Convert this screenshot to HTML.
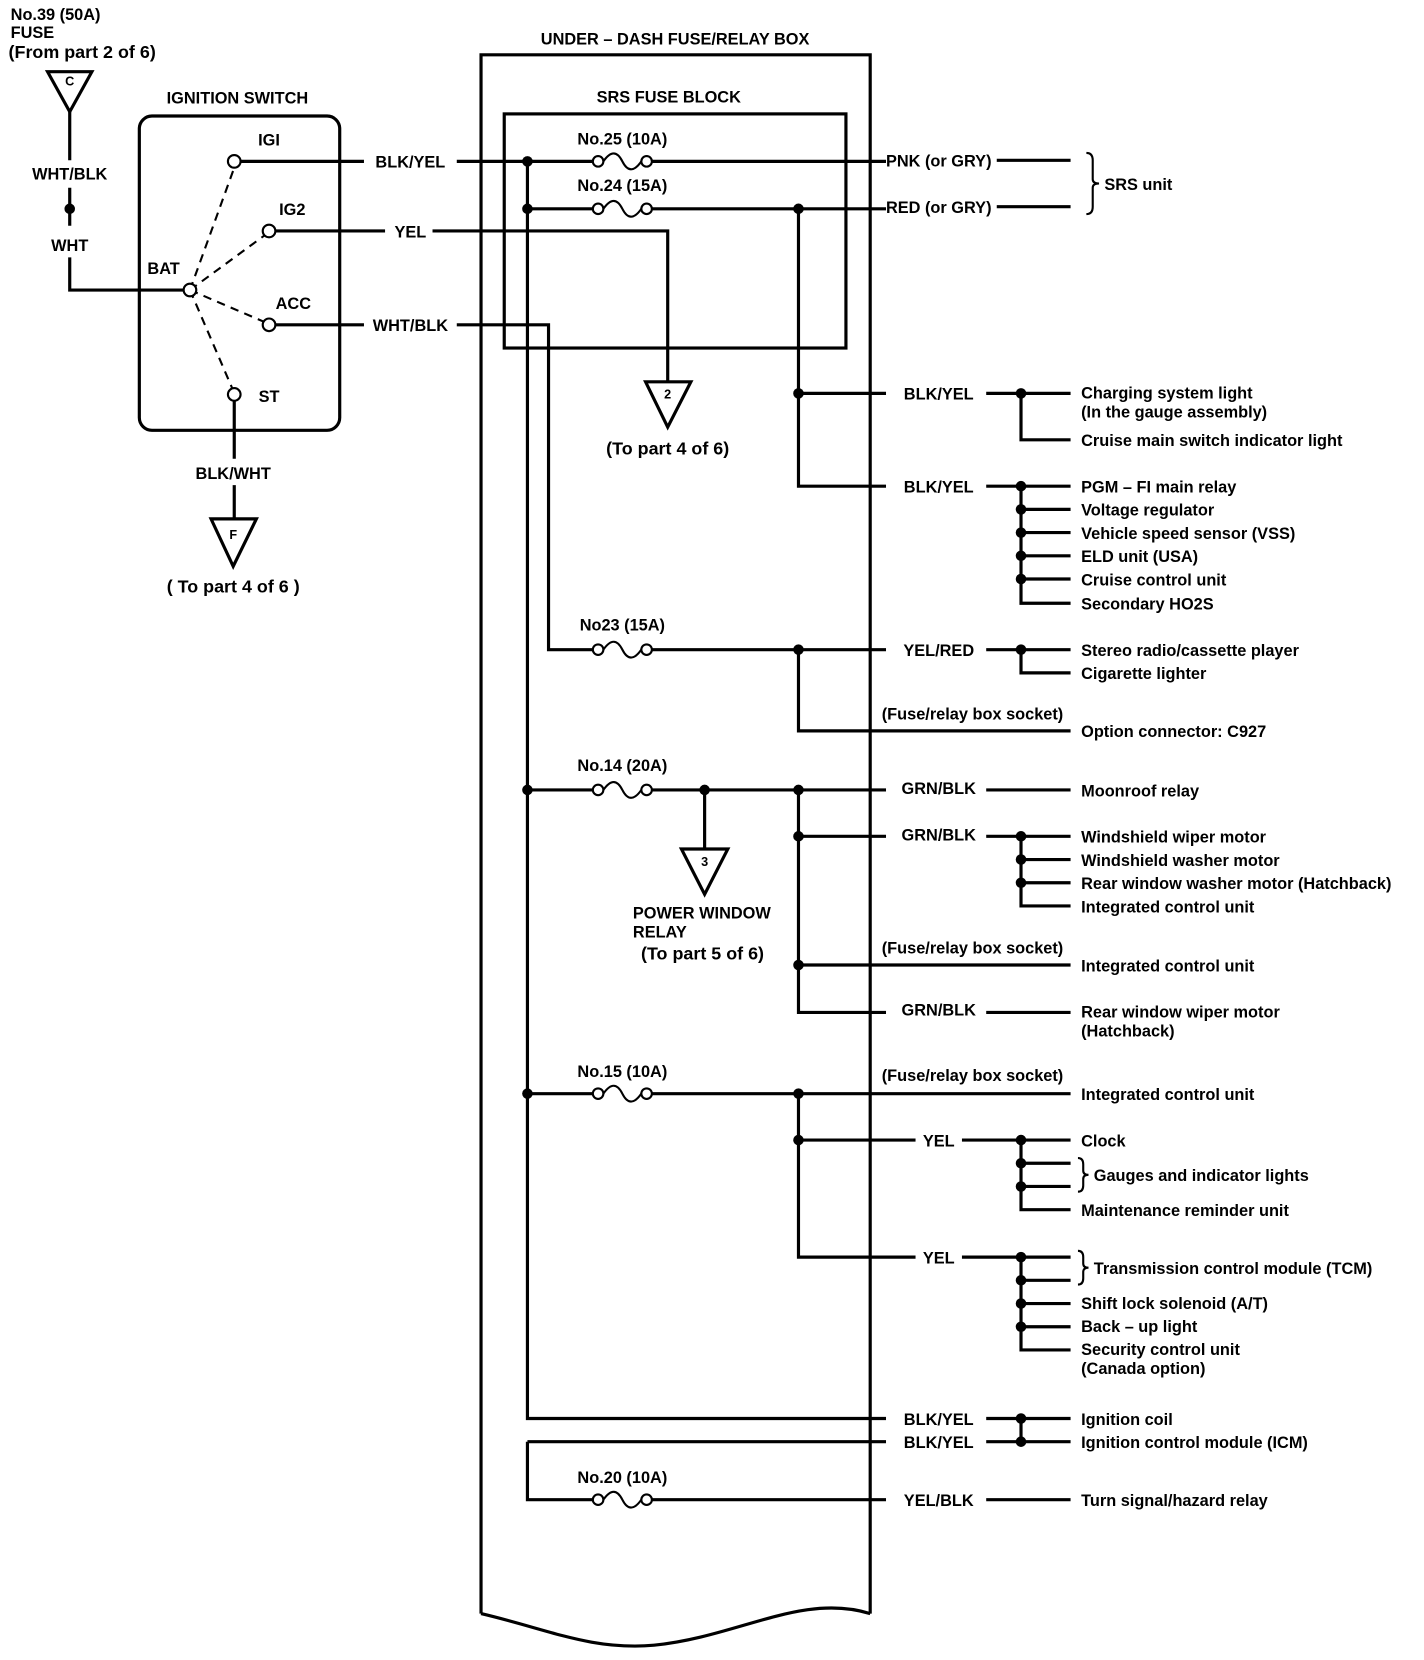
<!DOCTYPE html>
<html><head><meta charset="utf-8"><style>
html,body{margin:0;padding:0;background:#fff}
svg{display:block}
text{font-family:"Liberation Sans",sans-serif;font-weight:bold;font-size:15.5px;fill:#000}
.m{text-anchor:middle}
.b{font-size:17px}
</style></head><body>
<svg width="1424" height="1660" viewBox="0 0 1350 1574" xmlns="http://www.w3.org/2000/svg">
<defs>
<g id="fuse"><circle cx="0" cy="0" r="5" fill="#fff" stroke="#000" stroke-width="2"/><circle cx="46" cy="0" r="5" fill="#fff" stroke="#000" stroke-width="2"/><path d="M5,0 C12,-10 18,-10 23,0 C28,10 34,10 41,0" fill="none" stroke="#000" stroke-width="2"/></g>
</defs>
<g stroke="#000" stroke-width="3" fill="none">
<polygon points="45,68 87,68 66,106"/>
<path d="M66,106 V152 M66,178 V214 M66,244 V275 H174"/>
<rect x="132" y="110" width="190" height="298" rx="12"/>
<path d="M228,153 H345 M261,219 H365 M261,308 H345 M222,380 V435 M222,460 V492"/>
<polygon points="200,492 243,492 221,537"/>
<path d="M456,1530 V52 H825 V1530"/>
<path d="M456,1530 C520,1545 560,1565 620,1560 C700,1552 760,1510 825,1530"/>
<rect x="478" y="108" width="324" height="222"/>
<path d="M433,153 H562 M618,153 H840"/>
<path d="M410,219 H633 V362"/>
<polygon points="612,362 655,362 633,405"/>
<path d="M433,308 H520 V616 H562 M618,616 H840"/>
<path d="M500,153 V1345 H840"/>
<path d="M500,198 H562 M618,198 H840"/>
<path d="M757,198 V461 H840 M757,373 H840"/>
<path d="M945,152 H1015 M945,196 H1015"/>
<path d="M1030,145 Q1036,145 1036,152 V170 Q1036,174 1042,174 Q1036,174 1036,178 V196 Q1036,203 1030,203" stroke-width="2"/>
<path d="M935,373 H1015 M968,373 V417 H1015"/>
<path d="M935,461 H1015 M968,461 V572 H1015 M968,483 H1015 M968,505 H1015 M968,527 H1015 M968,549 H1015"/>
<path d="M757,616 V693 H1015 M935,616 H1015 M968,616 V638 H1015"/>
<path d="M500,749 H562 M618,749 H840 M668,749 V805 M757,749 V960 H840 M757,793 H840 M757,915 H1015"/>
<polygon points="646,805 690,805 668,848"/>
<path d="M935,749 H1015 M935,793 H1015 M968,793 V859 H1015 M968,815 H1015 M968,837 H1015 M935,960 H1015"/>
<path d="M500,1037 H562 M618,1037 H1015 M757,1037 V1192 H868 M757,1081 H868"/>
<path d="M912,1081 H1015 M968,1081 V1147 H1015 M968,1103 H1015 M968,1125 H1015"/>
<path d="M912,1192 H1015 M968,1192 V1280 H1015 M968,1214 H1015 M968,1236 H1015 M968,1258 H1015"/>
<path d="M1022,1098 Q1027,1098 1027,1104 V1110 Q1027,1114 1032,1114 Q1027,1114 1027,1118 V1124 Q1027,1130 1022,1130" stroke-width="2"/>
<path d="M1022,1186 Q1027,1186 1027,1192 V1198 Q1027,1202 1032,1202 Q1027,1202 1027,1206 V1212 Q1027,1218 1022,1218" stroke-width="2"/>
<path d="M935,1345 H1015 M968,1345 V1367 M500,1367 H840 M935,1367 H1015 M500,1367 V1422 H562 M618,1422 H840 M935,1422 H1015"/>
</g>
<g stroke="#000" stroke-width="2" stroke-dasharray="8,6" fill="none">
<path d="M180,275 L222,159 M180,275 L251,223 M180,275 L250,305 M180,275 L220,368"/>
</g>
<g stroke="#000" stroke-width="2" fill="#fff">
<circle cx="180" cy="275" r="6"/><circle cx="222" cy="153" r="6"/><circle cx="255" cy="219" r="6"/><circle cx="255" cy="308" r="6"/><circle cx="222" cy="374" r="6"/>
</g>
<use href="#fuse" x="567" y="153"/><use href="#fuse" x="567" y="198"/><use href="#fuse" x="567" y="616"/>
<use href="#fuse" x="567" y="749"/><use href="#fuse" x="567" y="1037"/><use href="#fuse" x="567" y="1422"/>
<g fill="#000">
<circle cx="66" cy="198" r="5"/>
<circle cx="500" cy="153" r="5"/><circle cx="500" cy="198" r="5"/><circle cx="500" cy="749" r="5"/><circle cx="500" cy="1037" r="5"/>
<circle cx="757" cy="198" r="5"/><circle cx="757" cy="373" r="5"/><circle cx="757" cy="616" r="5"/>
<circle cx="668" cy="749" r="5"/><circle cx="757" cy="749" r="5"/><circle cx="757" cy="793" r="5"/><circle cx="757" cy="915" r="5"/>
<circle cx="757" cy="1037" r="5"/><circle cx="757" cy="1081" r="5"/>
<circle cx="968" cy="373" r="5"/>
<circle cx="968" cy="461" r="5"/><circle cx="968" cy="483" r="5"/><circle cx="968" cy="505" r="5"/><circle cx="968" cy="527" r="5"/><circle cx="968" cy="549" r="5"/>
<circle cx="968" cy="616" r="5"/>
<circle cx="968" cy="793" r="5"/><circle cx="968" cy="815" r="5"/><circle cx="968" cy="837" r="5"/>
<circle cx="968" cy="1081" r="5"/><circle cx="968" cy="1103" r="5"/><circle cx="968" cy="1125" r="5"/>
<circle cx="968" cy="1192" r="5"/><circle cx="968" cy="1214" r="5"/><circle cx="968" cy="1236" r="5"/><circle cx="968" cy="1258" r="5"/>
<circle cx="968" cy="1345" r="5"/><circle cx="968" cy="1367" r="5"/>
</g>
<text x="10" y="19">No.39 (50A)</text>
<text x="10" y="36">FUSE</text>
<text x="8" y="55" class="b">(From part 2 of 6)</text>
<text x="66" y="81" class="m" style="font-size:12px">C</text>
<text x="66" y="170" class="m">WHT/BLK</text>
<text x="66" y="238" class="m">WHT</text>
<text x="225" y="98" class="m">IGNITION SWITCH</text>
<text x="255" y="138" class="m">IGI</text>
<text x="277" y="204" class="m">IG2</text>
<text x="278" y="293" class="m">ACC</text>
<text x="155" y="260" class="m">BAT</text>
<text x="255" y="381" class="m">ST</text>
<text x="389" y="159" class="m">BLK/YEL</text>
<text x="389" y="225" class="m">YEL</text>
<text x="389" y="314" class="m">WHT/BLK</text>
<text x="221" y="454" class="m">BLK/WHT</text>
<text x="221" y="511" class="m" style="font-size:12px">F</text>
<text x="221" y="562" class="m b">( To part 4 of 6 )</text>
<text x="640" y="42" class="m">UNDER – DASH FUSE/RELAY BOX</text>
<text x="634" y="97" class="m">SRS FUSE BLOCK</text>
<text x="590" y="137" class="m">No.25 (10A)</text>
<text x="590" y="181" class="m">No.24 (15A)</text>
<text x="633" y="378" class="m" style="font-size:12px">2</text>
<text x="633" y="431" class="m b">(To part 4 of 6)</text>
<text x="890" y="158" class="m">PNK (or GRY)</text>
<text x="890" y="202" class="m">RED (or GRY)</text>
<text x="1047" y="180">SRS unit</text>
<text x="890" y="379" class="m">BLK/YEL</text>
<text x="1025" y="378">Charging system light</text>
<text x="1025" y="396">(In the gauge assembly)</text>
<text x="1025" y="423">Cruise main switch indicator light</text>
<text x="890" y="467" class="m">BLK/YEL</text>
<text x="1025" y="467">PGM – FI main relay</text>
<text x="1025" y="489">Voltage regulator</text>
<text x="1025" y="511">Vehicle speed sensor (VSS)</text>
<text x="1025" y="533">ELD unit (USA)</text>
<text x="1025" y="555">Cruise control unit</text>
<text x="1025" y="578">Secondary HO2S</text>
<text x="590" y="598" class="m">No23 (15A)</text>
<text x="890" y="622" class="m">YEL/RED</text>
<text x="1025" y="622">Stereo radio/cassette player</text>
<text x="1025" y="644">Cigarette lighter</text>
<text x="922" y="682" class="m">(Fuse/relay box socket)</text>
<text x="1025" y="699">Option connector: C927</text>
<text x="590" y="731" class="m">No.14 (20A)</text>
<text x="890" y="753" class="m">GRN/BLK</text>
<text x="1025" y="755">Moonroof relay</text>
<text x="890" y="797" class="m">GRN/BLK</text>
<text x="1025" y="799">Windshield wiper motor</text>
<text x="1025" y="821">Windshield washer motor</text>
<text x="1025" y="843">Rear window washer motor (Hatchback)</text>
<text x="1025" y="865">Integrated control unit</text>
<text x="668" y="821" class="m" style="font-size:12px">3</text>
<text x="600" y="871">POWER WINDOW</text>
<text x="600" y="889">RELAY</text>
<text x="666" y="910" class="m b">(To part 5 of 6)</text>
<text x="922" y="904" class="m">(Fuse/relay box socket)</text>
<text x="1025" y="921">Integrated control unit</text>
<text x="890" y="963" class="m">GRN/BLK</text>
<text x="1025" y="965">Rear window wiper motor</text>
<text x="1025" y="983">(Hatchback)</text>
<text x="590" y="1021" class="m">No.15 (10A)</text>
<text x="922" y="1025" class="m">(Fuse/relay box socket)</text>
<text x="1025" y="1043">Integrated control unit</text>
<text x="890" y="1087" class="m">YEL</text>
<text x="1025" y="1087">Clock</text>
<text x="1037" y="1120">Gauges and indicator lights</text>
<text x="1025" y="1153">Maintenance reminder unit</text>
<text x="890" y="1198" class="m">YEL</text>
<text x="1037" y="1208">Transmission control module (TCM)</text>
<text x="1025" y="1241">Shift lock solenoid (A/T)</text>
<text x="1025" y="1263">Back – up light</text>
<text x="1025" y="1285">Security control unit</text>
<text x="1025" y="1303">(Canada option)</text>
<text x="890" y="1351" class="m">BLK/YEL</text>
<text x="890" y="1373" class="m">BLK/YEL</text>
<text x="1025" y="1351">Ignition coil</text>
<text x="1025" y="1373">Ignition control module (ICM)</text>
<text x="590" y="1406" class="m">No.20 (10A)</text>
<text x="890" y="1428" class="m">YEL/BLK</text>
<text x="1025" y="1428">Turn signal/hazard relay</text>
</svg>
</body></html>
